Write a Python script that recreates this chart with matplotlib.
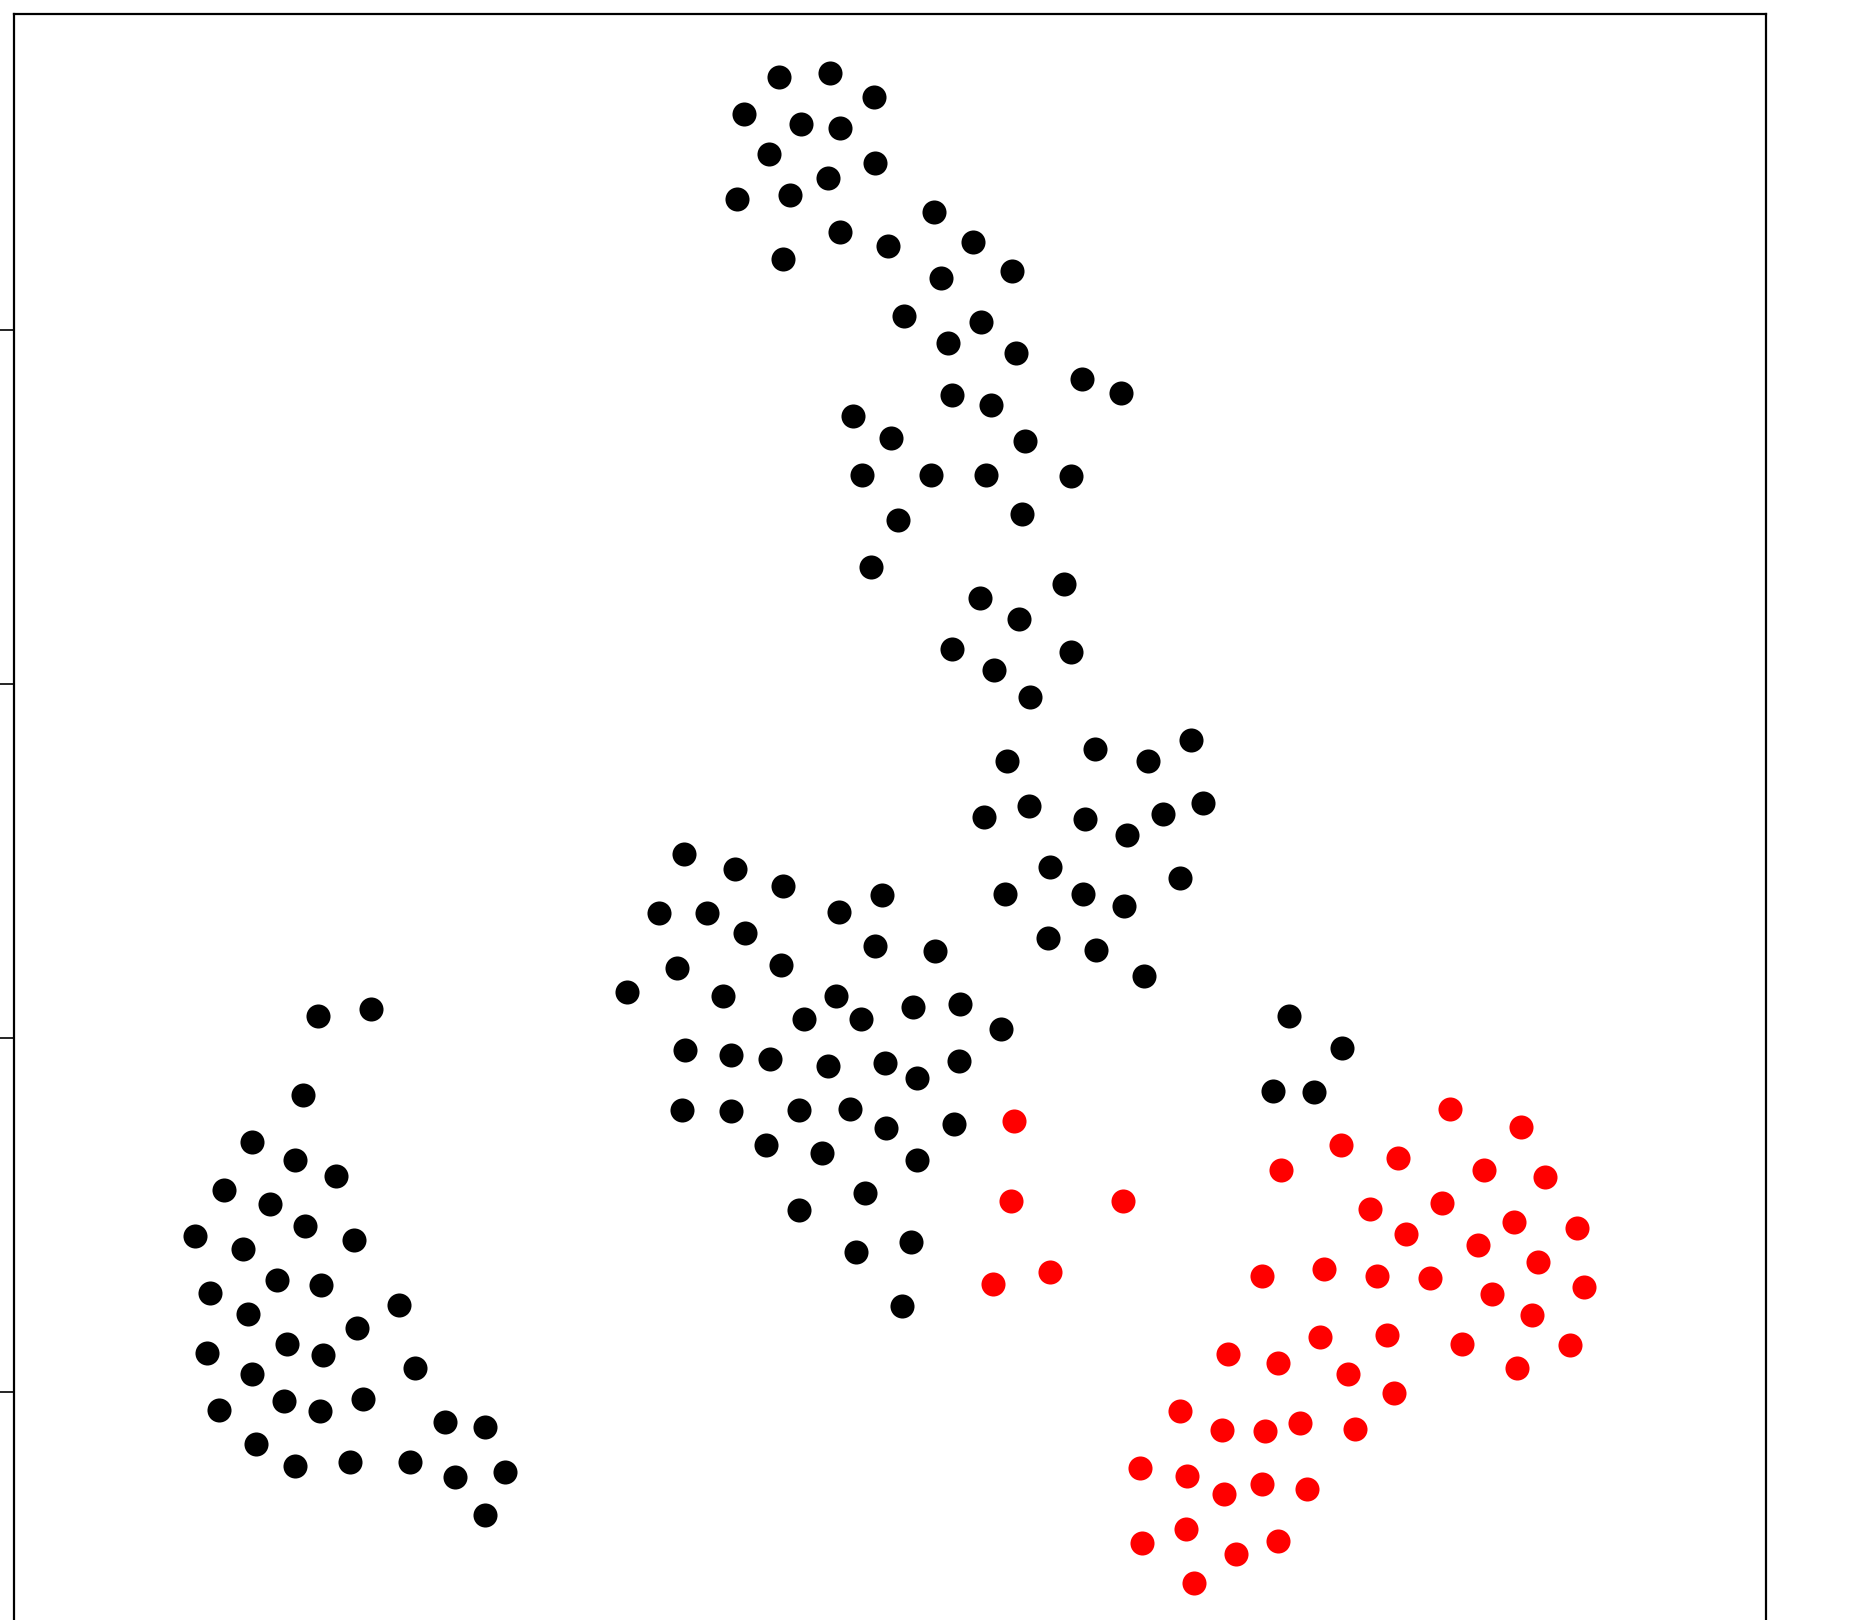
import numpy as np
import matplotlib
matplotlib.use('Agg')
import matplotlib.pyplot as plt

# black points, grouped by cluster
top_x = [-12.0, -7.6, -3.9, -14.9, -10.1, -6.8, -12.8, -3.8, -7.8, -15.5, -11.0, -6.8, -2.7, 1.2, 4.5,
         -11.6, 7.8, 1.8, -1.4, 5.2, 2.4, 8.1, 13.7, 17.0, 2.7, 6.0, -5.7, -2.5, 8.9, -4.9, 0.9, 5.6,
         12.8, -1.9, 8.6, -4.2, 12.2, 5.1, 8.4, 2.7, 12.8, 6.3, 9.3]
top_y = [51.5, 51.8, 49.8, 48.3, 47.5, 47.1, 44.9, 44.2, 42.9, 41.1, 41.5, 38.3, 37.1, 40.0, 37.5,
         36.0, 35.0, 34.4, 31.2, 30.7, 28.9, 28.1, 25.9, 24.7, 24.5, 23.7, 22.7, 20.9, 20.6, 17.7, 17.7, 17.7,
         17.6, 13.9, 14.4, 9.9, 8.5, 7.3, 5.5, 3.0, 2.7, 1.2, -1.1]

rmid_x = [23.0, 14.8, 7.4, 19.3, 24.0, 9.2, 5.4, 14.0, 20.6, 17.5, 11.0, 22.0, 7.2, 13.8, 17.3, 10.8, 14.9, 19.0]
rmid_y = [-4.7, -5.5, -6.5, -6.5, -10.1, -10.3, -11.3, -11.4, -11.0, -12.8, -15.5, -16.4, -17.8, -17.8,
          -18.8, -21.5, -22.5, -24.7]

mid_x = [-20.0, -15.7, -11.6, -3.2, -22.1, -18.1, -6.9, -14.8, -3.8, 1.3, -20.6, -11.8, -24.8, -16.7,
         -7.1, -0.6, 3.4, -9.8, -5.0, 6.9, -19.9, -16.0, -12.7, -7.8, -3.0, -0.3, 3.3, -20.2, -16.0,
         -10.3, -5.9, -2.9, 2.9, -13.1, -8.3, -0.3, -4.7, -10.3, -5.4, -0.8, -1.5]
mid_y = [-14.4, -15.7, -17.1, -17.9, -19.4, -19.4, -19.3, -21.1, -22.2, -22.6, -24.1, -23.8, -26.1, -26.4,
         -26.4, -27.4, -27.1, -28.4, -28.4, -29.2, -31.0, -31.4, -31.8, -32.4, -32.1, -33.4, -31.9, -36.1, -36.2,
         -36.1, -36.0, -37.6, -37.3, -39.1, -39.7, -40.3, -43.1, -44.6, -48.1, -47.3, -52.7]

left_x = [-51.0, -46.5, -52.3, -56.6, -53.0, -49.5, -59.0, -55.1, -52.1, -61.5, -57.4, -48.0, -54.5,
          -50.8, -60.2, -44.2, -57.0, -47.7, -53.7, -60.4, -50.6, -56.6, -42.8, -53.9, -47.2, -59.4,
          -50.9, -40.3, -36.9, -56.3, -53.0, -48.3, -43.2, -39.4, -35.2, -36.9]
left_y = [-28.1, -27.5, -34.8, -38.8, -40.3, -41.7, -42.9, -44.1, -45.9, -46.8, -47.9, -47.1, -50.5,
          -50.9, -51.6, -52.6, -53.4, -54.6, -55.9, -56.7, -56.9, -58.5, -58.0, -60.8, -60.6, -61.5,
          -61.6, -62.5, -63.0, -64.4, -66.3, -65.9, -65.9, -67.2, -66.8, -70.4]

near_x = [31.3, 35.8, 29.9, 33.4]
near_y = [-28.1, -30.8, -34.5, -34.6]

# red points
red_x = [8.0, 7.7, 17.2, 6.2, 11.0, 44.9, 50.9, 35.7, 40.5, 30.6, 47.8, 53.0, 38.1, 44.2, 50.3, 55.7,
         41.2, 47.3, 52.4, 29.0, 34.2, 38.7, 43.2, 48.5, 56.3, 51.9, 33.9, 39.6, 26.1, 30.3, 36.3, 45.9,
         55.1, 50.6, 40.2, 22.0, 25.6, 29.2, 32.2, 36.9, 18.6, 22.6, 25.8, 29.0, 32.8, 18.8, 22.5, 26.8,
         30.3, 23.2]
red_y = [-37.0, -43.8, -43.8, -50.8, -49.8, -36.0, -37.5, -39.1, -40.2, -41.2, -41.2, -41.8, -44.5,
         -44.0, -45.6, -46.1, -46.6, -47.5, -49.0, -50.2, -49.6, -50.2, -50.3, -51.7, -51.1, -53.5, -55.3,
         -55.2, -56.8, -57.5, -58.5, -55.9, -56.0, -58.0, -60.1, -61.6, -63.2, -63.3, -62.6, -63.1, -66.4,
         -67.1, -68.6, -67.8, -68.2, -72.8, -71.6, -73.7, -72.6, -76.2]

black_x = top_x + rmid_x + mid_x + left_x + near_x
black_y = top_y + rmid_y + mid_y + left_y + near_y

fig = plt.figure(figsize=(18.5, 16.2), dpi=100)
# axes box runs past the bottom of the canvas
ax = fig.add_axes([14/1850, -80/1620, 1752/1850, 1686/1620])
ax.scatter(black_x, black_y, s=300, c='black', linewidths=0)
ax.scatter(red_x, red_y, s=300, c='red', linewidths=0)
ax.set_xlim(-76.8, 71.7)
ax.set_ylim(56.8 - 142.9, 56.8)
ax.set_yticks([30, 0, -30, -60])
ax.set_xticks([])
ax.tick_params(axis='y', direction='out', length=12, width=1.2, labelleft=False)
for sp in ax.spines.values():
    sp.set_linewidth(1.6)
fig.savefig('out.png', dpi=100)
